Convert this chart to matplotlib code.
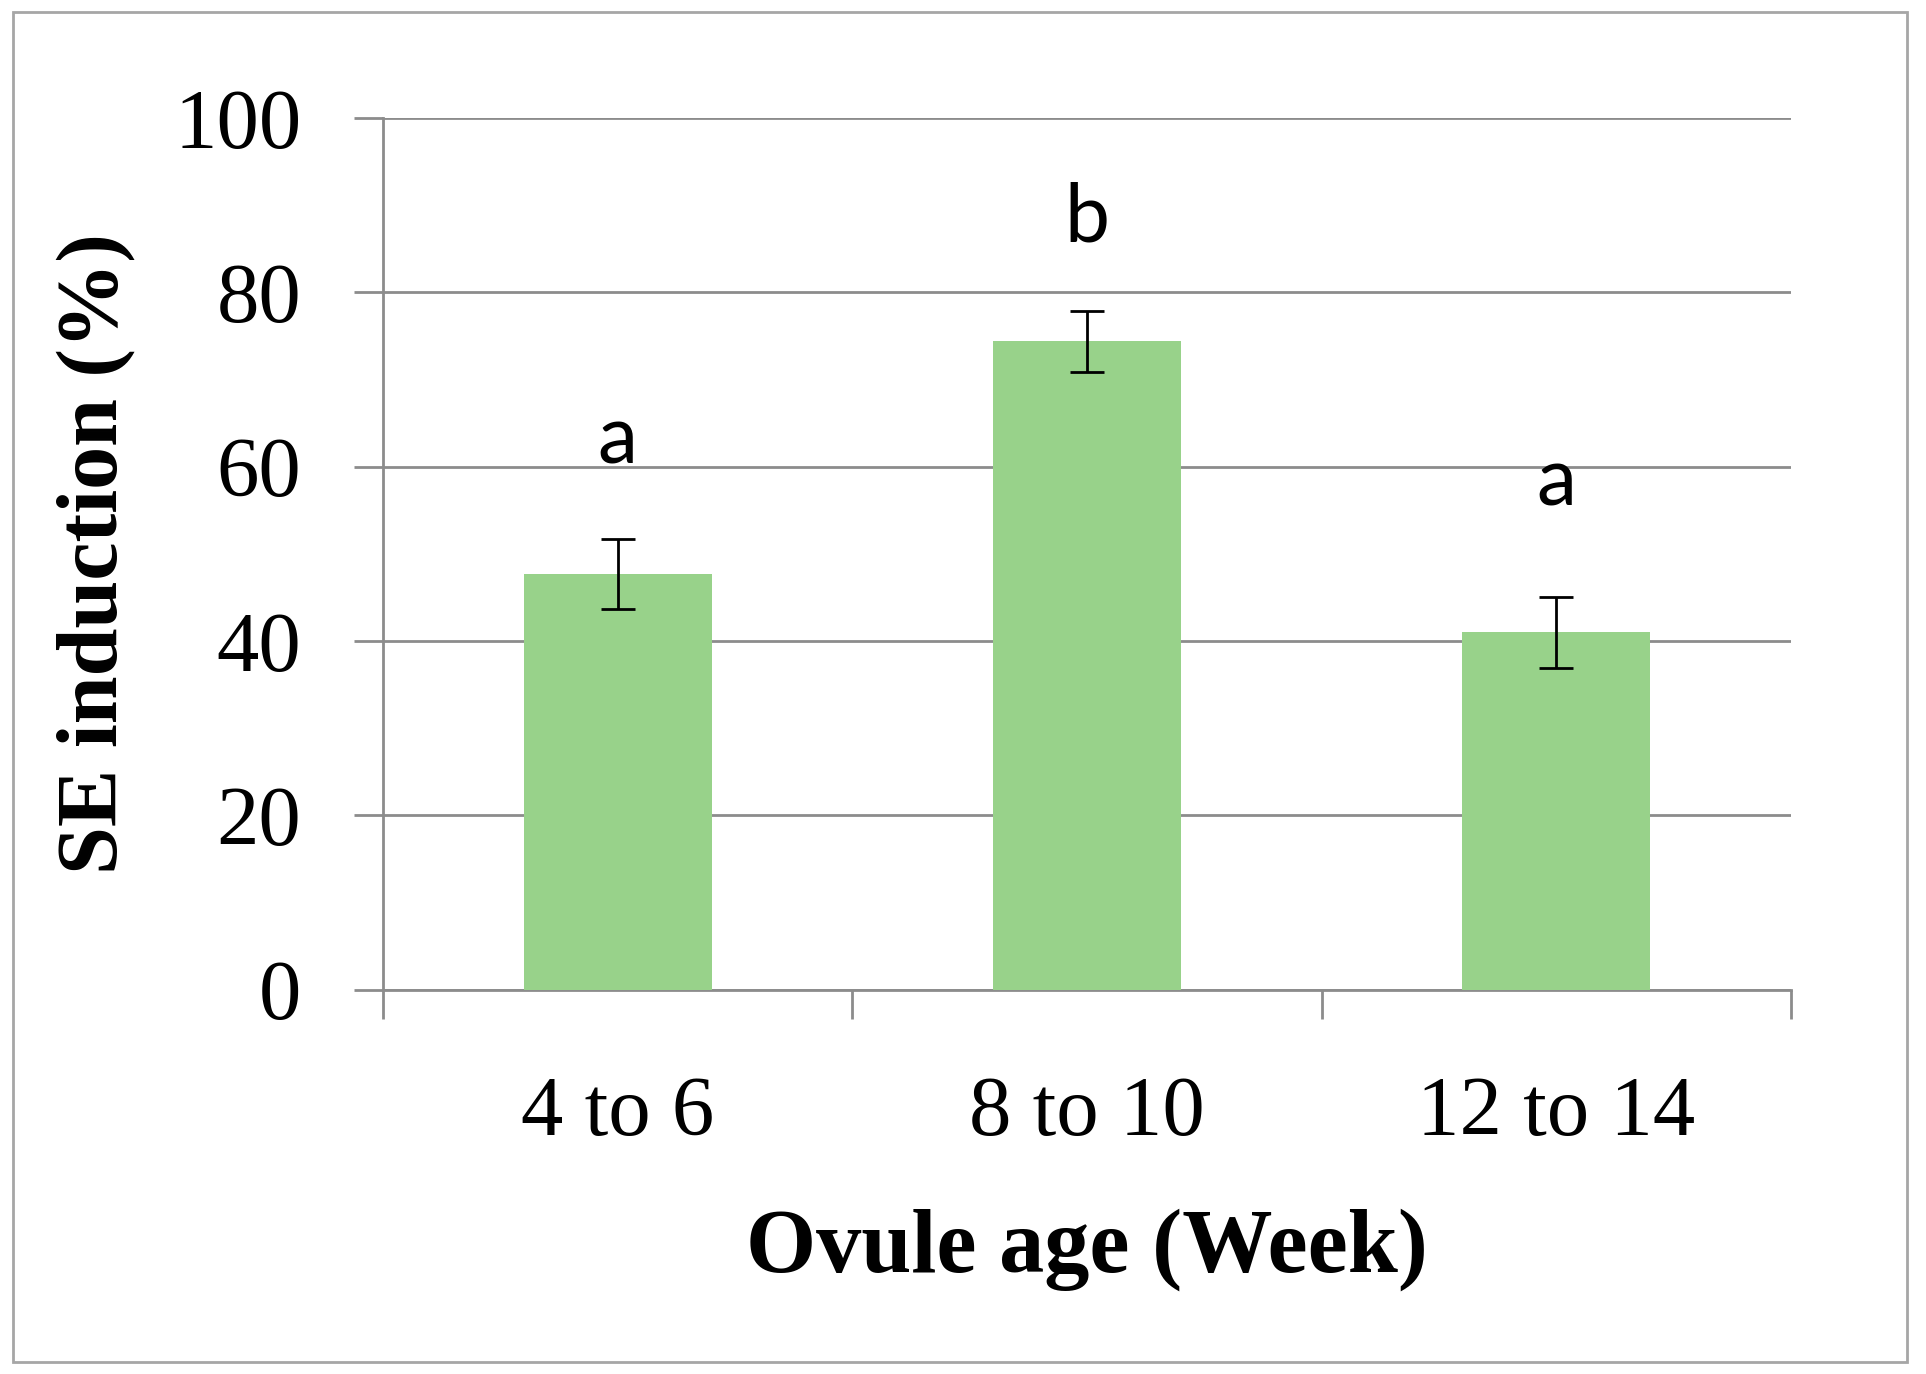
import matplotlib
matplotlib.use("Agg")
import matplotlib.pyplot as plt
from matplotlib.patches import Rectangle
from matplotlib.ticker import FixedLocator

# Data
categories = ["4 to 6", "8 to 10", "12 to 14"]
induction = [47.7, 74.4, 41.0]
errors = [4.0, 3.5, 4.1]
letters = ["a", "b", "a"]
letter_y = [60.4, 85.8, 55.6]

BAR_COLOR = "#98d28a"
GRID_COLOR = "#8c8c8c"
SERIF = ["Liberation Serif", "DejaVu Serif"]

fig = plt.figure(figsize=(19.26, 13.74), dpi=100)
ax = fig.add_axes([0.199, 0.2796, 0.7308, 0.6344])

x = list(range(len(categories)))
ax.bar(x, induction, width=0.4, color=BAR_COLOR, zorder=3)
ax.errorbar(x, induction, yerr=errors, fmt="none", ecolor="black",
            elinewidth=2.0, capsize=12, capthick=2.0, zorder=4)

for xi, txt, yy in zip(x, letters, letter_y):
    ax.text(xi, yy, txt, ha="center", va="baseline", fontsize=58,
            family=["Lato", "DejaVu Sans"], zorder=5)

ax.set_xlim(-0.5, len(categories) - 0.5)
ax.set_ylim(0, 100)
ax.set_yticks(range(0, 101, 20))
ax.yaxis.grid(True, color=GRID_COLOR, linewidth=2.0, zorder=0)
ax.set_axisbelow(True)

for side in ["top", "right"]:
    ax.spines[side].set_visible(False)
for side in ["left", "bottom"]:
    ax.spines[side].set_color(GRID_COLOR)
    ax.spines[side].set_linewidth(2.0)

ax.set_xticks(x)
ax.set_xticklabels(categories, family=SERIF, fontsize=61)
ax.xaxis.set_minor_locator(FixedLocator([-0.5, 0.5, 1.5, 2.5]))
ax.tick_params(axis="x", which="major", length=0, pad=62)
ax.tick_params(axis="x", which="minor", length=21, width=2.0, color=GRID_COLOR)
ax.tick_params(axis="y", length=21, width=2.0, color=GRID_COLOR, pad=38, labelsize=61)
for lab in ax.get_yticklabels():
    lab.set_family(SERIF)

ax.set_xlabel("Ovule age (Week)", family=SERIF, fontsize=65, fontweight="bold", va="center")
ax.xaxis.set_label_coords(0.5, -0.298)
ax.set_ylabel("SE induction (%)", family=SERIF, fontsize=62, fontweight="bold", va="center")
ax.yaxis.set_label_coords(-0.204, 0.5)

# chart frame around the whole figure
fig.patches.append(Rectangle((0.0065, 0.009), 0.9835, 0.982, transform=fig.transFigure,
                             fill=False, edgecolor="#a6a6a6", linewidth=2.0))

fig.savefig("out.png", dpi=100)
